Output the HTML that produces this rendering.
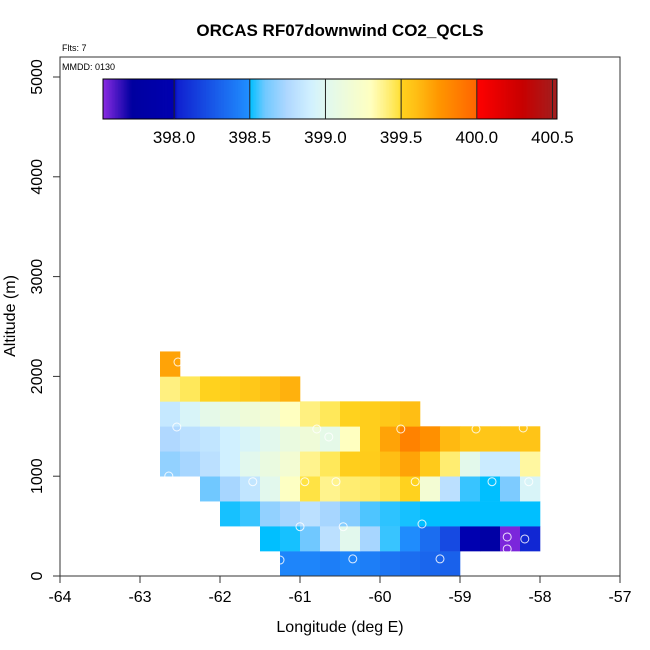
<!DOCTYPE html>
<html><head><meta charset="utf-8"><style>
body{margin:0;background:#fff;}
svg{display:block;font-family:"Liberation Sans",sans-serif;}
</style></head><body>
<svg id="chart" width="650" height="650" xmlns="http://www.w3.org/2000/svg">
<rect width="650" height="650" fill="#fff"/>
<text x="340" y="36" text-anchor="middle" font-size="17" font-weight="bold">ORCAS RF07downwind CO2_QCLS</text>
<text x="62" y="51" font-size="9">Flts: 7</text>
<g id="heat"></g>
<g id="marks"></g>
<rect x="60" y="57" width="560" height="519" fill="none" stroke="#333" stroke-width="1"/>
<g id="cbwrap">
<text x="62" y="70" font-size="9">MMDD: 0130</text>
<g id="cb"></g>
</g>
<g id="axes"></g>
<text x="340" y="632" text-anchor="middle" font-size="16">Longitude (deg E)</text>
<text transform="translate(15,316) rotate(-90)" text-anchor="middle" font-size="16">Altitude (m)</text>
</svg>
<script>
const lonStart = -62.75;
const rowStartCol = [6,5,3,2,0,0,0,0,0];
const rowValues = [
 [398.45,398.45,398.42,398.45,398.42,398.38,398.35,398.32,398.3],
 [398.5,398.52,398.6,398.8,399.02,398.73,398.55,398.48,398.35,398.2,398.0,397.8,397.55,398.05],
 [398.52,398.55,398.68,398.73,398.8,398.73,398.65,398.57,398.54,398.52,398.5,398.5,398.5,398.5,398.5,398.5],
 [398.6,398.73,398.83,399.02,399.28,399.48,399.38,399.42,399.43,399.46,399.5,399.18,398.8,398.55,398.5,398.63,398.95],
 [398.68,398.73,398.8,398.9,399.02,399.1,399.18,399.38,399.45,399.52,399.53,399.6,399.7,399.54,399.42,399.03,398.87,398.87,399.35],
 [398.75,398.8,398.83,398.9,398.95,399.02,399.1,399.15,399.05,399.3,399.52,399.7,399.85,399.78,399.62,399.56,399.56,399.57,399.57],
 [398.85,398.95,399.05,399.1,399.15,399.18,399.3,399.4,399.45,399.5,399.52,399.55,399.6],
 [399.4,399.45,399.5,399.52,399.55,399.6,399.65],
 [399.7]
];
const markLon = [-62.525,-62.54,-62.64,-60.79,-60.64,-61.59,-60.94,-60.55,-61.0,-60.46,-61.25,-59.74,-58.8,-58.21,-59.56,-58.6,-58.14,-59.475,-58.41,-58.19,-58.41,-60.34,-59.25];
const markAlt = [2144,1493,1002,1473,1393,945,945,945,494,494,160,1473,1473,1483,945,945,945,521,391,371,271,171,171];
const cbTicks = [398.0,398.5,399.0,399.5,400.0,400.5];
const cbMin = 397.53, cbMax = 400.53;
const stops = [[397.53,[138,43,226]],[397.72,[0,0,160]],[398.0,[0,0,176]],[398.02,[16,32,208]],[398.499,[32,144,255]],[398.5,[0,191,255]],[398.6,[112,200,255]],[398.75,[176,216,255]],[398.9,[208,240,255]],[399.0,[224,248,240]],[399.3,[255,255,192]],[399.4,[255,240,128]],[399.49,[255,225,60]],[399.5,[255,210,30]],[399.6,[255,190,20]],[399.75,[255,150,0]],[399.999,[255,100,0]],[400.0,[255,0,0]],[400.3,[200,0,0]],[400.53,[160,32,32]]];
function color(v){
  if(v<=stops[0][0]) return 'rgb('+stops[0][1]+')';
  for(let i=1;i<stops.length;i++){ if(v<=stops[i][0]){ const a=stops[i-1],b=stops[i],t=(v-a[0])/(b[0]-a[0]);
    return 'rgb('+a[1].map((c,k)=>Math.round(c+(b[1][k]-c)*t)).join(',')+')'; } }
  return 'rgb('+stops[stops.length-1][1]+')';
}
const X = lon => 60 + (lon+64)*80;
const Y = alt => 576 - alt*0.0998;
const NS='http://www.w3.org/2000/svg';
function mk(tag,attrs,parent){const e=document.createElementNS(NS,tag);for(const k in attrs)e.setAttribute(k,attrs[k]);parent.appendChild(e);return e;}
const heat=document.getElementById('heat');
rowValues.forEach((row,r)=>{
  row.forEach((v,i)=>{
    const lon=lonStart+(rowStartCol[r]+i)*0.25;
    const x0=X(lon), x1=X(lon+0.25), y0=Y((r+1)*250), y1=Y(r*250);
    const e=mk('rect',{x:x0,y:y0,width:x1-x0+0.3,height:y1-y0+0.3,fill:color(v)},heat);
    
    
  });
});
const marks=document.getElementById('marks');
markLon.forEach((lon,i)=>{
  const e=mk('circle',{cx:X(lon),cy:Y(markAlt[i]),r:4,fill:'none',stroke:'#fff','stroke-width':1,opacity:0.85},marks);
  
  
});
const cb=document.getElementById('cb');
const CX = v => 103 + (v-cbMin)/(cbMax-cbMin)*454;
const N=300;
for(let i=0;i<N;i++){
  const v0=cbMin+(cbMax-cbMin)*i/N, v1=cbMin+(cbMax-cbMin)*(i+1)/N;
  const e=mk('rect',{x:CX(v0),y:79,width:CX(v1)-CX(v0)+0.4,height:40,fill:color((v0+v1)/2)},cb);
  
  
}
const cbf=mk('rect',{x:103,y:79,width:454,height:40,fill:'none',stroke:'#000','stroke-width':1},cb);


cbTicks.forEach(t=>{
  const l=mk('line',{x1:CX(t),x2:CX(t),y1:79,y2:119,stroke:'#222','stroke-width':1},cb);
  
  
  const tx=mk('text',{x:CX(t),y:143,'text-anchor':'middle','font-size':17},cb);
  tx.textContent=t.toFixed(1);
  
  
});
const axes=document.getElementById('axes');
const xTicks=[-64,-63,-62,-61,-60,-59,-58,-57];
const yTicks=[0,1000,2000,3000,4000,5000];
xTicks.forEach(t=>{
  const l=mk('line',{x1:X(t),x2:X(t),y1:576,y2:583,stroke:'#333'},axes);
  
  
  const tx=mk('text',{x:X(t),y:602,'text-anchor':'middle','font-size':16},axes);
  tx.textContent=t;
  
  
});
yTicks.forEach(t=>{
  const l=mk('line',{x1:53,x2:60,y1:Y(t),y2:Y(t),stroke:'#333'},axes);
  
  
  const tx=mk('text',{'text-anchor':'middle','font-size':16,transform:'translate(42,'+Y(t)+') rotate(-90)'},axes);
  tx.textContent=t;
  
  
});
</script>
</body></html>
